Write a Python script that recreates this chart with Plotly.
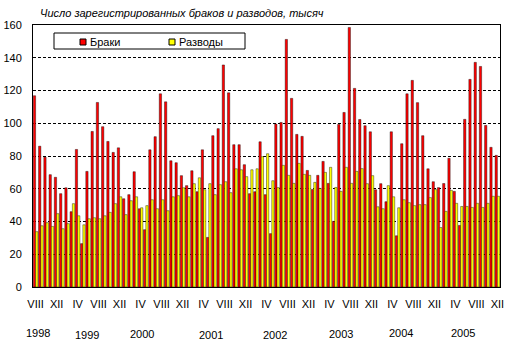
import plotly.graph_objects as go

# Monthly data, August 1998 - December 2005 (thousands)
marriages = [116.8, 86.0, 79.3, 68.6, 67.0, 57.0, 60.6, 46.0, 84.0, 26.5, 70.6, 95.0,
             112.7, 97.9, 88.9, 82.2, 85.0, 53.9, 56.4, 70.4, 47.8, 35.0, 83.8, 91.8,
             118.0, 113.1, 77.1, 75.9, 68.0, 61.9, 71.0, 58.2, 83.8, 30.3, 92.4, 96.7,
             135.6, 118.6, 86.9, 86.9, 74.7, 57.0, 58.2, 88.7, 56.4, 32.6, 99.5, 100.5,
             151.2, 115.2, 93.2, 92.0, 71.2, 59.6, 68.2, 76.7, 63.3, 40.1, 99.3, 106.6,
             158.5, 121.3, 102.3, 98.5, 94.8, 59.4, 63.1, 52.1, 94.8, 31.3, 87.5, 118.0,
             126.2, 112.6, 92.4, 72.2, 64.3, 60.7, 63.2, 78.6, 58.4, 37.6, 102.4, 126.8,
             137.2, 134.7, 98.7, 85.3, 80.4]
divorces = [33.8, 37.4, 39.3, 37.0, 44.8, 35.6, 38.7, 50.9, 43.5, 38.0, 41.7, 42.3,
            41.7, 43.5, 45.6, 50.9, 55.1, 44.2, 52.7, 55.1, 48.4, 49.7, 53.3, 47.8,
            53.3, 46.6, 55.1, 55.8, 60.6, 55.1, 63.1, 66.7, 59.4, 63.1, 56.4, 62.5,
            64.3, 57.6, 72.2, 71.6, 67.4, 71.6, 72.2, 79.6, 81.4, 64.9, 60.7, 74.3,
            68.2, 63.3, 75.5, 68.8, 68.2, 63.9, 60.2, 70.0, 73.1, 60.8, 58.4, 73.1,
            63.3, 70.6, 72.3, 63.1, 68.0, 49.0, 47.8, 61.9, 55.1, 48.4, 53.3, 51.5,
            49.7, 50.3, 50.3, 54.6, 59.5, 36.3, 46.2, 59.0, 51.1, 49.2, 49.2, 48.6,
            51.1, 48.6, 51.1, 55.4, 55.4]

month_roman = ["I", "II", "III", "IV", "V", "VI", "VII", "VIII", "IX", "X", "XI", "XII"]
start_month = 8  # August 1998
x_idx = list(range(len(marriages)))
tick_vals = x_idx[::4]
tick_text = [month_roman[(start_month - 1 + i) % 12] for i in tick_vals]

years = ["1998", "1999", "2000", "2001", "2002", "2003", "2004", "2005"]
year_pos = [0.45, 9.8, 20.3, 33.4, 45.6, 58.2, 69.6, 81.5]
year_ypix = [333, 335, 334, 335, 335, 334, 333, 333]

title_text = "Число зарегистрированных браков и разводов, тысяч"
series_names = ["Браки", "Разводы"]
colors = ["#FF0000", "#FFFF00"]

FONT = "Liberation Sans, Arial, sans-serif"
W, H = 515, 357
L, R, T, B = 33, 15, 25, 70
pw, ph = W - L - R, H - T - B


def px_x(p):
    return (p - L) / pw


def px_y(p):
    return (H - B - p) / ph


fig = go.Figure()
for name, vals, col in zip(series_names, [marriages, divorces], colors):
    fig.add_trace(go.Bar(x=x_idx, y=vals, name=name, marker=dict(color=col, line=dict(color="black", width=0.4)),
                         showlegend=False))

fig.update_layout(
    template="none",
    width=W, height=H,
    margin=dict(l=L, r=R, t=T, b=B, pad=0, autoexpand=False),
    paper_bgcolor="white", plot_bgcolor="white",
    barmode="group", bargap=0.12, bargroupgap=0,
    font=dict(family=FONT, size=11, color="black"),
    showlegend=False,
)
fig.update_xaxes(range=[-0.5, len(marriages) - 0.5], tickmode="array", tickvals=tick_vals, ticktext=tick_text,
                 showgrid=False, zeroline=False, showline=True, mirror=True, linecolor="black", linewidth=1,
                 ticks="", ticklabelstandoff=7, automargin=False, tickfont=dict(size=11, family=FONT))
fig.update_yaxes(range=[0, 160], dtick=20, showgrid=True, gridcolor="black", gridwidth=1, griddash="3px,2px",
                 zeroline=False, showline=True, mirror=True, linecolor="black", linewidth=1,
                 ticks="", ticklabelstandoff=8, automargin=False, tickfont=dict(size=11, family=FONT))

annotations = [dict(text="<i>" + title_text + "</i>", xref="paper", yref="paper", x=px_x(38), y=px_y(13),
                    xanchor="left", yanchor="middle", showarrow=False, font=dict(size=11, family=FONT))]
for yr, pos, yp in zip(years, year_pos, year_ypix):
    annotations.append(dict(text=yr, xref="x", yref="paper", x=pos, y=px_y(yp), xanchor="center",
                            yanchor="middle", showarrow=False, font=dict(size=11, family=FONT)))

# legend box drawn manually
shapes = [dict(type="rect", xref="paper", yref="paper", x0=px_x(54), x1=px_x(245), y0=px_y(49), y1=px_y(33),
               fillcolor="white", line=dict(color="black", width=1), layer="above")]
legend_px = [80, 169]
for name, col, lx in zip(series_names, colors, legend_px):
    shapes.append(dict(type="rect", xref="paper", yref="paper", x0=px_x(lx), x1=px_x(lx + 6), y0=px_y(45),
                       y1=px_y(39), fillcolor=col, line=dict(color="black", width=1), layer="above"))
    annotations.append(dict(text=name, xref="paper", yref="paper", x=px_x(lx + 8), y=px_y(42), xanchor="left",
                            yanchor="middle", showarrow=False, font=dict(size=11, family=FONT)))

fig.update_layout(annotations=annotations, shapes=shapes)
fig.write_html("out.html", config={"displayModeBar": False},
               post_script="document.body.style.margin='0';document.body.style.overflow='hidden';")
